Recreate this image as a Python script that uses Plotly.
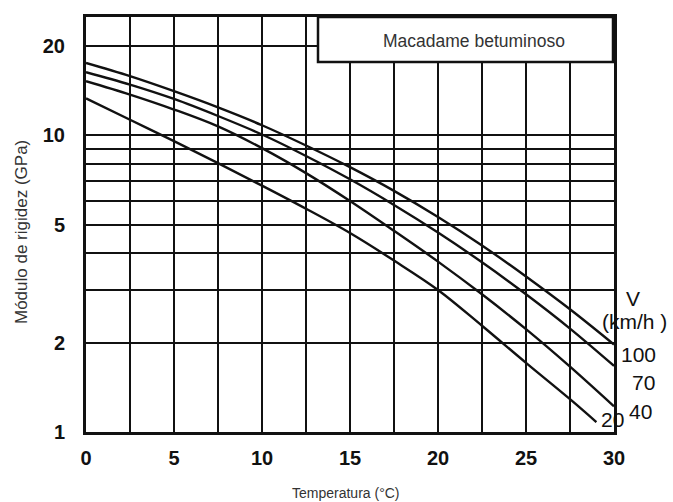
import plotly.graph_objects as go

# Temperature (°C) sample points
temps = [0, 2.5, 5, 7.5, 10, 12.5, 15, 17.5, 20, 22.5, 25, 27.5, 30]
temps_20 = [0, 2.5, 5, 7.5, 10, 12.5, 15, 17.5, 20, 22.5, 25, 27.5, 29]

# Stiffness modulus (GPa) by vehicle speed (km/h)
mod_100 = [17.5, 15.8, 14.06, 12.4, 10.8, 9.23, 7.8, 6.49, 5.3, 4.25, 3.34, 2.59, 1.97]
mod_70 = [16.3, 14.8, 13.24, 11.6, 10.05, 8.51, 7.1, 5.82, 4.7, 3.73, 2.91, 2.23, 1.67]
mod_40 = [15.2, 13.7, 12.2, 10.7, 9.04, 7.45, 6.0, 4.76, 3.75, 2.91, 2.22, 1.66, 1.22]
mod_20 = [13.3, 11.27, 9.55, 8.05, 6.76, 5.65, 4.68, 3.78, 3.01, 2.28, 1.71, 1.29, 1.08]

x_ticks = [0, 2.5, 5, 7.5, 10, 12.5, 15, 17.5, 20, 22.5, 25, 27.5, 30]
x_ticktext = ["0", "", "5", "", "10", "", "15", "", "20", "", "25", "", "30"]
y_ticks = [1, 2, 3, 4, 5, 6, 7, 8, 9, 10, 20]
y_ticktext = ["1", "2", "", "", "5", "", "", "", "", "10", "20"]

W, H = 673, 502
L, R, T, B = 86, 59, 17, 70
pw, ph = W - L - R, H - T - B


def px(x):
    return (x - L) / pw


def py(y):
    return (H - B - y) / ph


fig = go.Figure()
line_style = dict(color="#111111", width=2.4)
for xs, ys, name in [(temps, mod_100, "100"), (temps, mod_70, "70"),
                     (temps, mod_40, "40"), (temps_20, mod_20, "20")]:
    fig.add_trace(go.Scatter(x=xs, y=ys, mode="lines",
                             line=dict(shape="spline", smoothing=1.0, **line_style),
                             name=name, showlegend=False, hoverinfo="skip"))

FAM = "Liberation Sans, Arial, sans-serif"
tick_font = dict(family=FAM, size=20, color="#111111", weight="bold")
fig.update_layout(
    width=W, height=H,
    margin=dict(l=L, r=R, t=T, b=B),
    paper_bgcolor="white", plot_bgcolor="white",
    xaxis=dict(range=[0, 30], tickmode="array", tickvals=x_ticks, ticktext=x_ticktext,
               showgrid=True, gridcolor="#111111", gridwidth=2.4, zeroline=False,
               showline=True, linecolor="#111111", linewidth=3, mirror=True,
               ticks="", tickfont=tick_font, ticklabelstandoff=6),
    yaxis=dict(type="log", range=[0, 1.398], tickmode="array", tickvals=y_ticks, ticktext=y_ticktext,
               showgrid=True, gridcolor="#111111", gridwidth=2.4, zeroline=False,
               showline=True, linecolor="#111111", linewidth=3, mirror=True,
               ticks="", tickfont=tick_font, ticklabelstandoff=14),
)

# Title box
fig.add_shape(type="rect", xref="paper", yref="paper",
              x0=px(318), x1=px(613), y0=py(62), y1=1.0,
              fillcolor="white", line=dict(color="#111111", width=2.5), layer="above")

lab_font = dict(family=FAM, size=21, color="#111111")
annos = [
    ("Macadame betuminoso", 474, 41, dict(family=FAM, size=17.5, color="#333333"), 0),
    ("V", 633, 298, lab_font, 0),
    ("(km/h )", 634, 321, lab_font, 0),
    ("100", 638, 354, lab_font, 0),
    ("70", 643, 382, lab_font, 0),
    ("40", 640, 411, lab_font, 0),
    ("20", 612, 419, lab_font, 0),
    ("Temperatura (°C)", 346, 493, dict(family=FAM, size=14, color="#333333"), 0),
    ("Módulo de rigidez (GPa)", 21, 232, dict(family=FAM, size=17, color="#333333"), -90),
]
for text, x, y, font, ang in annos:
    fig.add_annotation(text=text, xref="paper", yref="paper", x=px(x), y=py(y),
                       xanchor="center", yanchor="middle", showarrow=False, font=font, textangle=ang)

fig.write_html("out.html")
